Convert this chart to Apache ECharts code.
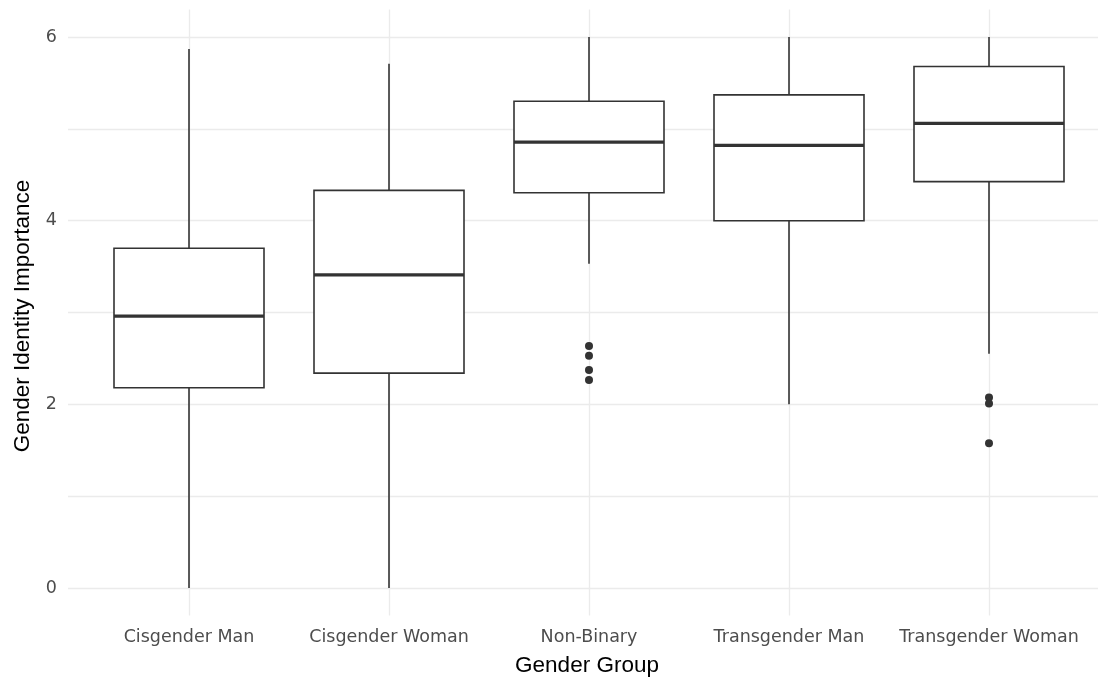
<!DOCTYPE html>
<html>
<head>
<meta charset="utf-8">
<script src="https://cdn.jsdelivr.net/npm/echarts@6.0.0/dist/echarts.min.js"></script>
<style>
html,body{margin:0;padding:0;background:#fff;}
#chart{width:1098px;height:684px;}
</style>
</head>
<body>
<div id="chart"></div>
<script>
// ---- data ----
var categories = ['Cisgender Man', 'Cisgender Woman', 'Non-Binary', 'Transgender Man', 'Transgender Woman'];
var whiskerLow = [0, 0, 3.53, 2.0, 2.55];
var q1Values   = [2.18, 2.34, 4.305, 4.0, 4.425];
var medians    = [2.96, 3.41, 4.855, 4.82, 5.06];
var q3Values   = [3.70, 4.33, 5.30, 5.37, 5.68];
var whiskerHigh= [5.87, 5.71, 6.0, 6.0, 6.0];
var outlierGroup = [2, 2, 2, 2, 4, 4, 4];
var outlierValue = [2.635, 2.53, 2.374, 2.265, 2.075, 2.01, 1.575];
var yTicks = [0, 2, 4, 6];
var xTitle = 'Gender Group';
var yTitle = 'Gender Identity Importance';

var boxData = categories.map(function (c, i) {
  return [i, whiskerLow[i], q1Values[i], medians[i], q3Values[i], whiskerHigh[i]];
});
var outlierData = outlierGroup.map(function (g, i) { return [g, outlierValue[i]]; });

var lineColor = '#333333';
var gridColor = '#ebebeb';

function renderBox(params, api) {
  var i = api.value(0);
  var pLow = api.coord([i, api.value(1)]);
  var pQ1 = api.coord([i, api.value(2)]);
  var pMed = api.coord([i, api.value(3)]);
  var pQ3 = api.coord([i, api.value(4)]);
  var pHigh = api.coord([i, api.value(5)]);
  var band = api.size([1, 0])[0];
  var half = band * 0.375;
  var x = pMed[0];
  var lw = 1.6;
  return {
    type: 'group',
    children: [
      { type: 'line', shape: { x1: x, y1: pHigh[1], x2: x, y2: pQ3[1] },
        style: { stroke: lineColor, lineWidth: lw } },
      { type: 'line', shape: { x1: x, y1: pQ1[1], x2: x, y2: pLow[1] },
        style: { stroke: lineColor, lineWidth: lw } },
      { type: 'rect', shape: { x: x - half, y: pQ3[1], width: half * 2, height: pQ1[1] - pQ3[1] },
        style: { fill: '#ffffff', stroke: lineColor, lineWidth: lw } },
      { type: 'line', shape: { x1: x - half, y1: pMed[1], x2: x + half, y2: pMed[1] },
        style: { stroke: lineColor, lineWidth: 3.2 } }
    ]
  };
}

var chart = echarts.init(document.getElementById('chart'), null, { renderer: 'canvas' });
chart.setOption({
  backgroundColor: '#ffffff',
  animation: false,
  grid: [
    { left: 68, right: 0, top: 37, height: 551 },
    { left: 189, width: 800, top: 9.5, height: 606 }
  ],
  xAxis: [
    { gridIndex: 0, type: 'value', show: false, min: 0, max: 1 },
    { gridIndex: 1, type: 'category', data: categories, boundaryGap: false,
      axisLine: { show: false }, axisTick: { show: false, interval: 0 },
      splitLine: { show: true, interval: 0, lineStyle: { color: gridColor, width: 1.3 } },
      axisLabel: { interval: 0, hideOverlap: false, color: '#4d4d4d', fontFamily: 'DejaVu Sans', fontSize: 17.5, margin: 13 } }
  ],
  yAxis: [
    { gridIndex: 0, type: 'value', min: 0, max: 6, interval: 1,
      axisLine: { show: false }, axisTick: { show: false },
      splitLine: { show: true, lineStyle: { color: gridColor, width: 1.3 } },
      axisLabel: { color: '#4d4d4d', fontFamily: 'DejaVu Sans', fontSize: 17.5, margin: 11,
        formatter: function (v) { return yTicks.indexOf(v) >= 0 ? String(v) : ''; } } },
    { gridIndex: 1, type: 'value', min: -0.3, max: 6.3, show: false }
  ],
  graphic: [
    { type: 'text', x: 587, y: 666, z: 10,
      style: { text: xTitle, fill: '#000000', font: '22.5px "Liberation Sans"', textAlign: 'center', textVerticalAlign: 'middle' } },
    { type: 'text', x: 23, y: 316, rotation: Math.PI / 2, z: 10,
      style: { text: yTitle, fill: '#000000', font: '22.5px "Liberation Sans"', textAlign: 'center', textVerticalAlign: 'middle' } }
  ],
  series: [
    { type: 'custom', xAxisIndex: 1, yAxisIndex: 1, data: boxData, renderItem: renderBox, z: 3 },
    { type: 'scatter', xAxisIndex: 1, yAxisIndex: 1, data: outlierData, symbol: 'circle', symbolSize: 8,
      itemStyle: { color: lineColor, opacity: 1 }, z: 4 }
  ]
});
</script>
</body>
</html>
